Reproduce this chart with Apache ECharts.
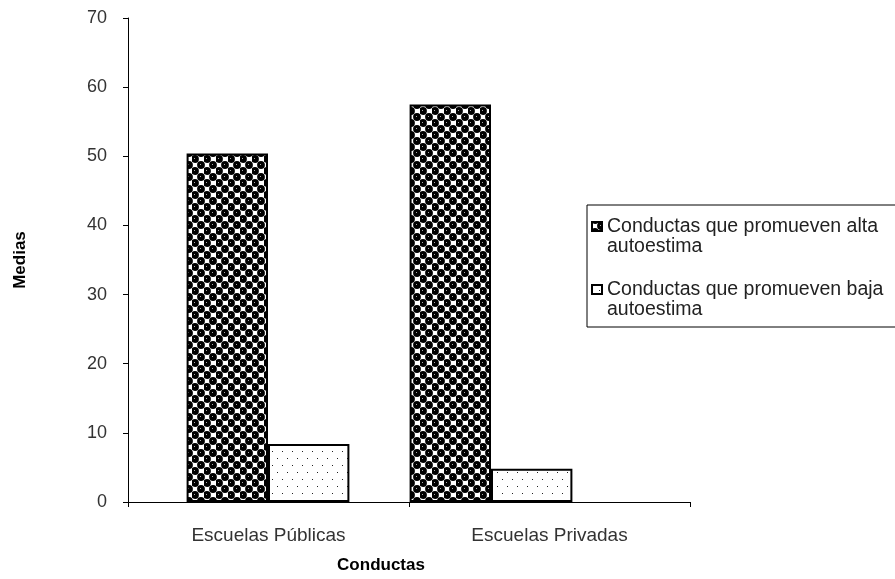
<!DOCTYPE html>
<html><head><meta charset="utf-8">
<script src="https://cdn.jsdelivr.net/npm/echarts@6/dist/echarts.min.js"></script>
<style>html,body{margin:0;padding:0;background:#fff}#c{width:895px;height:579px}</style>
</head><body><div id="c"></div>
<script>
const categories = ['Escuelas Públicas', 'Escuelas Privadas'];
const seriesNames = ['Conductas que promueven alta\nautoestima', 'Conductas que promueven baja\nautoestima'];
const altaValues = [50.4, 57.5];
const bajaValues = [8.4, 4.8];
const yTicks = [0, 10, 20, 30, 40, 50, 60, 70];

function darkPattern() {
  const c = document.createElement('canvas');
  c.width = 12; c.height = 12;
  const g = c.getContext('2d');
  g.fillStyle = '#fff'; g.fillRect(0, 0, 12, 12);
  g.fillStyle = '#000';
  const pts = [[3,3],[9,9],[-3,9],[15,9],[9,-3],[3,15],[-3,-3],[15,15],[15,-3],[-3,15]];
  pts.forEach(p => { g.beginPath(); g.arc(p[0], p[1], 3.9, 0, Math.PI * 2); g.fill(); });
  g.fillStyle = '#aaa';
  [[2,2],[8,8]].forEach(p => g.fillRect(p[0], p[1], 1, 1));
  return c;
}
function lightPattern() {
  const c = document.createElement('canvas');
  c.width = 10; c.height = 14;
  const g = c.getContext('2d');
  g.fillStyle = '#fff'; g.fillRect(0, 0, 10, 14);
  g.fillStyle = '#222';
  g.fillRect(2, 3, 1, 1);
  g.fillRect(7, 10, 1, 1);
  return c;
}

const chart = echarts.init(document.getElementById('c'), null, {renderer: 'canvas'});
const font = 'Liberation Sans, Arial, sans-serif';
const iconPath = 'path://M0,0 L0,0 M0,5 L10,5 L10,14 L0,14 Z M0,40 L0,40';
const gridTop = 18, gridBottom = 77;
chart.setOption({
  animation: false,
  backgroundColor: '#fff',
  textStyle: {fontFamily: font},
  grid: [
    {left: 128, top: gridTop, right: 205, bottom: gridBottom},
    {left: 156.5, top: gridTop, right: 292.5, bottom: gridBottom}
  ],
  legend: {
    orient: 'vertical',
    left: 587, top: 205,
    padding: [11, 200, 6, 4],
    borderColor: '#000', borderWidth: 1,
    itemWidth: 10, itemHeight: 40, itemGap: 21,
    textStyle: {fontFamily: font, fontSize: 19.5, color: '#222', lineHeight: 20},
    data: [{name: seriesNames[0], icon: iconPath}, {name: seriesNames[1], icon: iconPath}]
  },
  xAxis: [
    {
      gridIndex: 0, type: 'category', data: categories,
      name: 'Conductas', nameLocation: 'middle', nameGap: 55,
      nameTextStyle: {fontFamily: font, fontSize: 17, fontWeight: 'bold', color: '#000', padding: [0, 56, 0, 0]},
      axisLine: {lineStyle: {color: '#000', width: 1}},
      axisTick: {show: true, length: 5, lineStyle: {color: '#000'}},
      axisLabel: {fontFamily: font, fontSize: 19, color: '#333', margin: 24}
    },
    {
      gridIndex: 1, type: 'category', data: categories, show: false
    }
  ],
  yAxis: [
    {
      gridIndex: 0, type: 'value', min: yTicks[0], max: yTicks[yTicks.length - 1], interval: 10,
      name: 'Medias', nameLocation: 'middle', nameGap: 99, nameRotate: 90,
      nameTextStyle: {fontFamily: font, fontSize: 17, fontWeight: 'bold', color: '#000'},
      splitLine: {show: false},
      axisLine: {show: true, lineStyle: {color: '#000', width: 1}},
      axisTick: {show: true, length: 5, lineStyle: {color: '#000'}},
      axisLabel: {fontFamily: font, fontSize: 18, color: '#333', margin: 21}
    },
    {
      gridIndex: 1, type: 'value', min: yTicks[0], max: yTicks[yTicks.length - 1], show: false, splitLine: {show: false}
    }
  ],
  series: [
    {
      name: seriesNames[0], type: 'bar', data: altaValues, xAxisIndex: 1, yAxisIndex: 1,
      barGap: '0%', barCategoryGap: '27%',
      itemStyle: {color: {image: darkPattern(), repeat: 'repeat'}, borderColor: '#000', borderWidth: 2}
    },
    {
      name: seriesNames[1], type: 'bar', data: bajaValues, xAxisIndex: 1, yAxisIndex: 1,
      itemStyle: {color: {image: lightPattern(), repeat: 'repeat'}, borderColor: '#000', borderWidth: 2}
    }
  ]
});
</script></body></html>
